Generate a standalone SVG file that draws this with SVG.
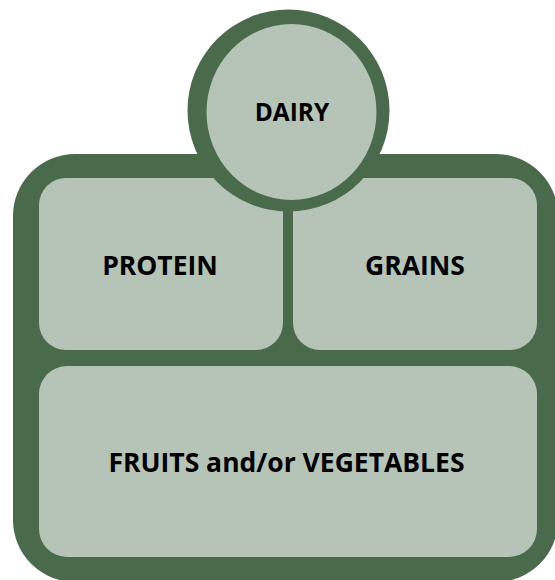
<svg xmlns="http://www.w3.org/2000/svg" width="555" height="580" viewBox="0 0 555 580">
<style>
.frame{fill:#4a6b4b}
.panel{fill:#b5c4b7}
.lbl{font-family:"Open Sans","Noto Sans",sans-serif;font-weight:bold;fill:#000;text-anchor:middle}
</style>
<rect width="555" height="580" fill="#fff"/>
<g id="plate">
<rect class="frame" x="13" y="154" width="545" height="428" rx="62" ry="62"/>
</g>
<g id="protein">
<rect class="panel" x="39" y="178" width="244" height="172" rx="27" ry="27"/>
<text class="lbl" x="160" y="275" font-size="26.5">PROTEIN</text>
</g>
<g id="grains">
<rect class="panel" x="293" y="178" width="244" height="172" rx="27" ry="27"/>
<text class="lbl" x="415" y="275" font-size="26.5">GRAINS</text>
</g>
<g id="fruits-vegetables">
<rect class="panel" x="39" y="366" width="498" height="191" rx="28" ry="28"/>
<text class="lbl" x="286.5" y="472" font-size="26.5">FRUITS and/or VEGETABLES</text>
</g>
<g id="dairy">
<circle class="frame" cx="288.5" cy="110.5" r="101"/>
<ellipse class="panel" cx="291.5" cy="112" rx="85" ry="88"/>
<text class="lbl" x="292" y="121" font-size="24.5">DAIRY</text>
</g>
<g id="connectors"></g>
</svg>
